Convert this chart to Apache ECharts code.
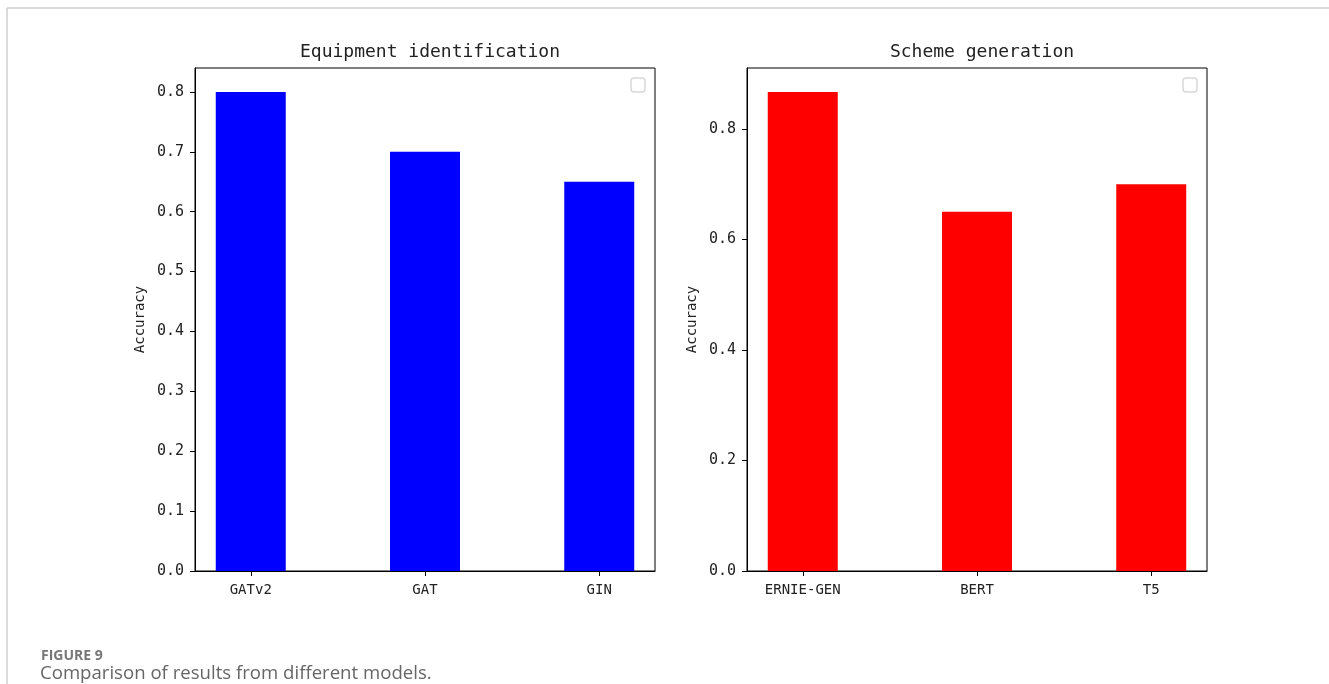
<!DOCTYPE html>
<html>
<head>
<meta charset="utf-8">
<script src="https://cdn.jsdelivr.net/npm/echarts@6/dist/echarts.min.js"></script>
<style>
  html, body { margin: 0; padding: 0; background: #fff; }
  #chart { width: 1329px; height: 684px; }
</style>
</head>
<body>
<div id="chart"></div>
<script>
// values
const equipModels = ['GATv2', 'GAT', 'GIN']
const equipAcc = [0.8, 0.7, 0.65]
const schemeModels = ['ERNIE-GEN', 'BERT', 'T5']
const schemeAcc = [0.867, 0.65, 0.70]
const equipTicks = [0, 0.1, 0.2, 0.3, 0.4, 0.5, 0.6, 0.7, 0.8]
const schemeTicks = [0, 0.2, 0.4, 0.6, 0.8]
const catPos = [0, 1, 2]

const mono = 'DejaVu Sans Mono'
const ink = '#222'

function xAxisFor(idx, names) {
  return {
    type: 'value', gridIndex: idx,
    min: -0.32, max: 2.32,
    axisLine: { show: true, onZero: false, lineStyle: { color: '#000', width: 1 } },
    axisTick: { show: true, customValues: catPos, length: 5, lineStyle: { color: '#000' } },
    axisLabel: {
      customValues: catPos, margin: 12,
      fontFamily: mono, fontSize: 14, color: ink,
      formatter: v => names[Math.round(v)]
    },
    splitLine: { show: false }
  }
}

function yAxisFor(idx, top, ticks) {
  return {
    type: 'value', gridIndex: idx,
    min: 0, max: top,
    name: 'Accuracy', nameLocation: 'middle', nameGap: 48,
    nameTextStyle: { fontFamily: mono, fontSize: 14, color: ink },
    axisLine: { show: true, onZero: false, lineStyle: { color: '#000', width: 1 } },
    axisTick: { show: true, customValues: ticks, length: 5, lineStyle: { color: '#000' } },
    axisLabel: {
      customValues: ticks, margin: 11,
      fontFamily: mono, fontSize: 15, color: ink,
      formatter: v => v.toFixed(1)
    },
    splitLine: { show: false }
  }
}

function emptyLegend(x) {
  return {
    type: 'rect',
    shape: { x: x, y: 78, width: 14, height: 14, r: 3 },
    style: { fill: '#fff', stroke: '#d8d8d8', lineWidth: 1.5 }
  }
}

const chart = echarts.init(document.getElementById('chart'))

chart.setOption({
  animation: false,
  title: [
    { text: 'Equipment identification', left: 425, top: 38, textAlign: 'center',
      textStyle: { fontFamily: mono, fontSize: 18, fontWeight: 'normal', color: ink } },
    { text: 'Scheme generation', left: 977, top: 38, textAlign: 'center',
      textStyle: { fontFamily: mono, fontSize: 18, fontWeight: 'normal', color: ink } },
    { text: 'FIGURE 9', left: 36, top: 644,
      textStyle: { fontFamily: 'Open Sans', fontSize: 14, fontWeight: 'bold', color: '#777' } },
    { text: 'Comparison of results from different models.', left: 35, top: 659,
      textStyle: { fontFamily: 'Open Sans', fontSize: 18.6, fontWeight: 'normal', color: '#666' } }
  ],
  grid: [
    { left: 195, top: 68, width: 460, height: 503, show: true, borderColor: '#000', borderWidth: 1, backgroundColor: 'transparent' },
    { left: 747, top: 68, width: 460, height: 503, show: true, borderColor: '#000', borderWidth: 1, backgroundColor: 'transparent' }
  ],
  xAxis: [xAxisFor(0, equipModels), xAxisFor(1, schemeModels)],
  yAxis: [yAxisFor(0, 0.84, equipTicks), yAxisFor(1, 0.9104, schemeTicks)],
  series: [
    {
      type: 'bar', xAxisIndex: 0, yAxisIndex: 0, barWidth: 70,
      itemStyle: { color: '#0000ff' },
      data: equipAcc.map((v, i) => [catPos[i], v])
    },
    {
      type: 'bar', xAxisIndex: 1, yAxisIndex: 1, barWidth: 70,
      itemStyle: { color: '#ff0000' },
      data: schemeAcc.map((v, i) => [catPos[i], v])
    }
  ],
  graphic: [
    { type: 'line', shape: { x1: 7, y1: 8, x2: 1329, y2: 8 }, style: { stroke: '#cfcfcf', lineWidth: 1.5 } },
    { type: 'line', shape: { x1: 7, y1: 8, x2: 7, y2: 684 }, style: { stroke: '#cfcfcf', lineWidth: 1.5 } },
    emptyLegend(631),
    emptyLegend(1183)
  ]
})
</script>
</body>
</html>
